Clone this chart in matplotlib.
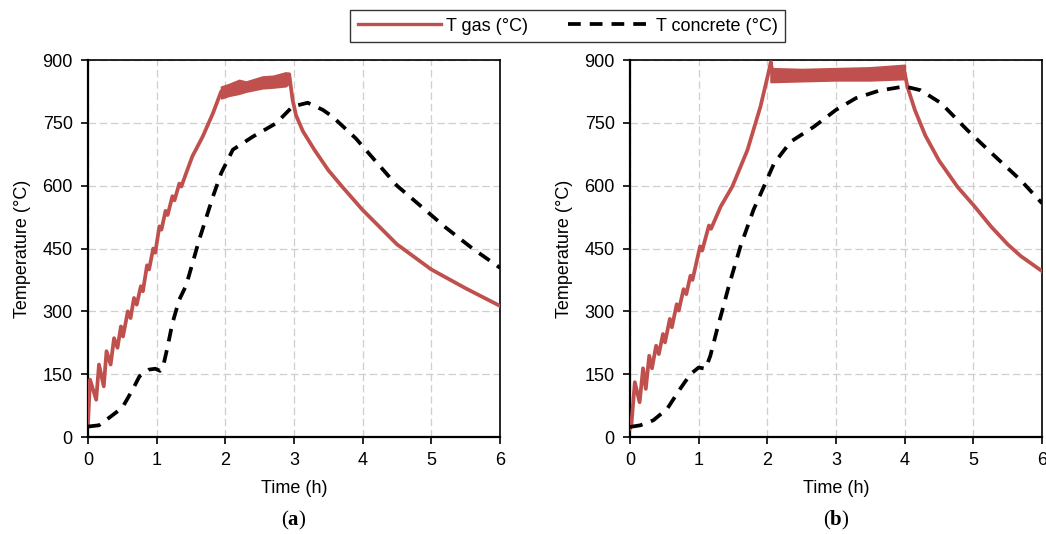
import matplotlib
matplotlib.use('Agg')
import matplotlib.pyplot as plt
from matplotlib.lines import Line2D

plt.rcParams['font.family'] = ['Liberation Sans', 'DejaVu Sans']
plt.rcParams['mathtext.fontset'] = 'custom'
plt.rcParams['mathtext.bf'] = 'Liberation Serif:bold'
plt.rcParams['mathtext.rm'] = 'Liberation Serif'

# ---- panel (a) ----
gas_a_t = [0, 0.03, 0.12, 0.16, 0.23, 0.27, 0.33, 0.38, 0.43, 0.48, 0.51, 0.58, 0.62,
           0.67, 0.71, 0.77, 0.80, 0.86, 0.89, 0.95, 0.98, 1.04, 1.07, 1.13, 1.16, 1.23,
           1.26, 1.33, 1.36, 1.43, 1.52, 1.67, 1.82, 1.94, 2.1, 2.3, 2.5, 2.7, 2.9, 2.93,
           2.98, 3.03, 3.13, 3.3, 3.5, 3.7, 4.0, 4.5, 5.0, 5.5, 6.0]
gas_a_T = [30, 137, 89, 173, 121, 205, 173, 236, 213, 264, 240, 300, 284,
           332, 316, 360, 348, 410, 400, 450, 440, 503, 495, 540, 530, 575,
           565, 605, 598, 630, 670, 717, 773, 825, 830, 838, 845, 850, 855, 866,
           805, 768, 730, 685, 637, 598, 542, 460, 400, 355, 313]
band_a_t = [1.94, 2.05, 2.2, 2.3, 2.54, 2.7, 2.88, 2.93]
band_a_lo = [809, 815, 820, 825, 833, 835, 838, 845]
band_a_hi = [836, 842, 852, 848, 860, 862, 870, 868]
conc_a_t = [0, 0.16, 0.3, 0.5, 0.65, 0.75, 0.89, 0.98, 1.05, 1.09, 1.16, 1.23, 1.33,
            1.43, 1.62, 1.82, 1.94, 2.11, 2.4, 2.74, 2.98, 3.2, 3.42, 3.56, 3.9, 4.17,
            4.5, 4.87, 5.21, 5.6, 6.0]
conc_a_T = [25, 28, 45, 70, 113, 145, 161, 163, 158, 165, 216, 272, 328,
            362, 471, 574, 630, 686, 717, 749, 789, 798, 781, 765, 713, 662,
            600, 548, 500, 450, 404]

# ---- panel (b) ----
gas_b_t = [0, 0.02, 0.07, 0.14, 0.19, 0.23, 0.28, 0.32, 0.38, 0.42, 0.48, 0.51, 0.58,
           0.61, 0.68, 0.71, 0.78, 0.82, 0.88, 0.91, 1.02, 1.05, 1.15, 1.18, 1.32, 1.49,
           1.71, 1.9, 2.02, 2.05, 2.08, 2.5, 3.0, 3.5, 4.0, 4.04, 4.15, 4.3, 4.5, 4.77,
           5.01, 5.26, 5.5, 5.69, 6.0]
gas_b_T = [20, 28, 131, 83, 164, 115, 194, 164, 218, 198, 246, 226, 282,
           262, 317, 302, 353, 341, 385, 375, 455, 445, 505, 497, 550, 598,
           685, 789, 872, 895, 865, 864, 866, 867, 870, 836, 780, 720, 660, 597,
           552, 502, 460, 432, 396]
band_b_t = [2.05, 2.5, 3.0, 3.5, 4.0]
band_b_lo = [848, 850, 852, 852, 855]
band_b_hi = [880, 878, 880, 882, 888]
conc_b_t = [0, 0.15, 0.34, 0.54, 0.73, 0.88, 1.0, 1.1, 1.17, 1.27, 1.34, 1.44, 1.61,
            1.8, 1.95, 2.1, 2.34, 2.68, 3.0, 3.29, 3.63, 4.0, 4.23, 4.53, 4.91, 5.25,
            5.69, 6.0]
conc_b_T = [24, 28, 40, 67, 115, 150, 166, 163, 194, 258, 300, 361, 456,
            543, 598, 654, 705, 741, 781, 809, 827, 837, 828, 797, 733, 680,
            613, 558]

x_ticks = [0, 1, 2, 3, 4, 5, 6]
y_ticks = [0, 150, 300, 450, 600, 750, 900]
panel_labels = ['a', 'b']

RED = '#C0504D'
DASH = (0, (3.4, 2.4))

fig = plt.figure(figsize=(10.46, 5.34), dpi=100)
ax_a = fig.add_axes([0.0841, 0.1816, 0.3939, 0.706])
ax_b = fig.add_axes([0.6023, 0.1816, 0.3939, 0.706])

panels = [
    (ax_a, gas_a_t, gas_a_T, band_a_t, band_a_lo, band_a_hi, conc_a_t, conc_a_T),
    (ax_b, gas_b_t, gas_b_T, band_b_t, band_b_lo, band_b_hi, conc_b_t, conc_b_T),
]

for i, (ax, gt, gT, bt, blo, bhi, ct, cT) in enumerate(panels):
    ax.grid(True, color='#cfcfcf', linestyle=(0, (6, 3)), linewidth=0.9)
    ax.set_axisbelow(True)
    ax.plot(gt, gT, color=RED, lw=2.7, zorder=3)
    ax.fill_between(bt, blo, bhi, color=RED, lw=1.5, edgecolor=RED, zorder=3)
    ax.plot(ct, cT, color='black', lw=2.7, linestyle=DASH, zorder=4)
    ax.set_xlim(0, 6)
    ax.set_ylim(0, 900)
    ax.set_xticks(x_ticks)
    ax.set_yticks(y_ticks)
    ax.tick_params(labelsize=13, length=5, width=1.2, direction='out', pad=6)
    for s in ax.spines.values():
        s.set_color('black')
        s.set_linewidth(1.2)
    ax.spines['left'].set_linewidth(1.6)
    ax.spines['bottom'].set_linewidth(1.6)
    ax.set_xlabel('Time (h)', fontsize=13, labelpad=8)
    ax.set_ylabel('Temperature (°C)', fontsize=13, labelpad=8)
    ax.text(0.5, -0.19, r'($\mathbf{%s}$)' % panel_labels[i], transform=ax.transAxes,
            ha='center', va='top', fontsize=15, family='Liberation Serif')

handles = [Line2D([], [], color=RED, lw=2.4),
           Line2D([], [], color='black', lw=2.7, linestyle=DASH)]
leg = fig.legend(handles, ['T gas (°C)', 'T concrete (°C)'], loc='center',
                 bbox_to_anchor=(0.543, 0.951), ncol=2, fontsize=13, frameon=True,
                 fancybox=False, edgecolor='black', handlelength=4.6, columnspacing=2.2,
                 borderpad=0.4, handletextpad=0.3)
leg.get_frame().set_linewidth(1.0)

fig.savefig('out.png', dpi=100)
